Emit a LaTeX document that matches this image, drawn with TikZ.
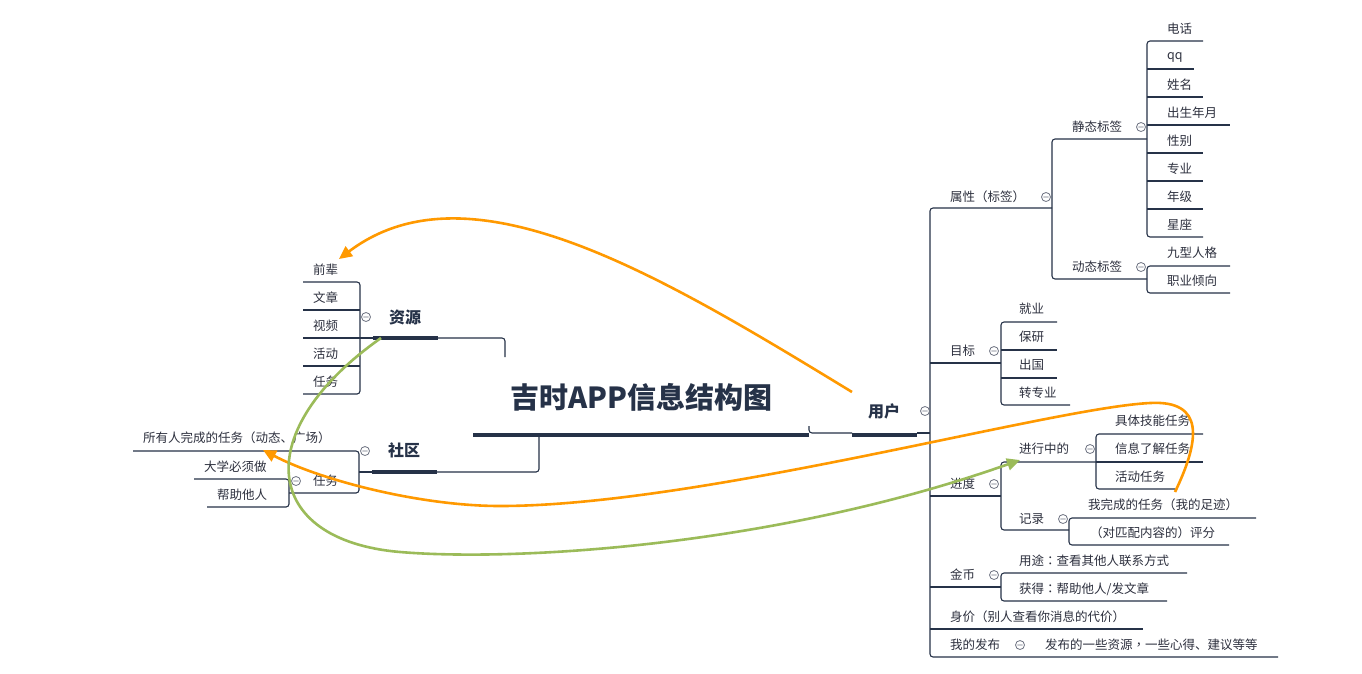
\documentclass[tikz,border=0pt]{standalone}
\usepackage{fontspec}
\setmainfont[Kerning=Off]{Noto Sans CJK SC}
\newfontfamily\tcf[Kerning=Off]{Noto Sans CJK TC}
\newcommand\lp{\makebox[1em][c]{\tcf （}}
\newcommand\rp{\makebox[1em][c]{\tcf ）}}
\newcommand\cl{\makebox[1em][c]{\tcf ：}}
\newcommand\cm{\makebox[1em][c]{\tcf ，}}
\newcommand\dn{\makebox[1em][l]{、}}
\usetikzlibrary{arrows.meta}
\definecolor{ln}{RGB}{38,50,72}
\definecolor{tx}{RGB}{45,48,62}
\definecolor{og}{RGB}{255,153,0}
\definecolor{gr}{RGB}{155,187,89}
\definecolor{cg}{RGB}{110,115,130}
\newcommand\mycoll[2]{\draw[coll] (#1,#2) circle[radius=4.5pt] (#1-2.6,#2) -- (#1+2.6,#2);}
\begin{document}
\begin{tikzpicture}[x=1pt,y=-1pt,
 br/.style={draw=ln,line width=1.1pt,rounded corners=3pt},
 bar/.style={draw=ln,line width=4.5pt},
 lab/.style={anchor=west,inner sep=0pt,text=tx,font=\fontsize{12.5}{14}\selectfont},
 mainlab/.style={inner sep=0pt,text=ln,font=\fontsize{16}{18}\selectfont\bfseries},
 coll/.style={draw=cg,line width=0.8pt},
 rel/.style={line width=2.6pt,-{Triangle[length=13pt,width=12pt]}}]
\fill[white] (0,0) rectangle (1362,673);
\useasboundingbox (0,0) rectangle (1362,673);

% ---------- central ----------
\node[inner sep=0pt,text=ln,font=\fontsize{29}{33}\selectfont\bfseries] (title) at (641,397) {吉时APP信息结构图};
\draw[bar] (473,435) -- (809,435);
\draw[br] (809,426) -- (809,433) -- (852,433);
\draw[draw=ln,line width=4pt] (852,435) -- (917,435);
\draw[br] (917,433) -- (930,433);

% ---------- right trunk ----------
\draw[br] (1052,208) -- (930,208) -- (930,657) -- (1278,657);
\draw[br] (930,363) -- (1001,363);
\draw[br] (930,496) -- (1001,496);
\draw[br] (930,587) -- (1001,587);
\draw[br] (930,629) -- (1143,629);

\node[mainlab] (yonghu) at (884,411) {用户};
\mycoll{925}{411}

% 属性
\node[lab] (shuxing) at (950,197) {属性\lp 标签\rp};
\mycoll{1046}{197}
\draw[br] (1147,139) -- (1052,139) -- (1052,279) -- (1147,279);
\node[lab] (jingtai) at (1072,127) {静态标签};
\mycoll{1141}{127}
\node[lab] (dongtai) at (1072,267) {动态标签};
\mycoll{1141}{267}
\draw[br] (1203,41) -- (1147,41) -- (1147,237) -- (1203,237);
\foreach \yy/\ee in {69/1194,97/1203,125/1230,153/1203,181/1203,209/1203}
  \draw[br] (1147,\yy) -- (\ee,\yy);
\node[lab] (dianhua) at (1167,29) {电话};
\node[lab] (qq) at (1167,57) {qq};
\node[lab] (xingming) at (1167,85) {姓名};
\node[lab] (chusheng) at (1167,113) {出生年月};
\node[lab] (xingbie) at (1167,141) {性别};
\node[lab] (zhuanye) at (1167,169) {专业};
\node[lab] (nianji) at (1167,197) {年级};
\node[lab] (xingzuo) at (1167,225) {星座};
\draw[br] (1230,266) -- (1147,266) -- (1147,293) -- (1230,293);
\node[lab] (jiuxing) at (1167,253) {九型人格};
\node[lab] (zhiye) at (1167,281) {职业倾向};

% 目标
\node[lab] (mubiao) at (950,351) {目标};
\mycoll{994}{351}
\draw[br] (1057,322) -- (1001,322) -- (1001,405) -- (1070,405);
\draw[br] (1001,350) -- (1057,350);
\draw[br] (1001,378) -- (1057,378);
\node[lab] (jiuye) at (1019,309) {就业};
\node[lab] (baoyan) at (1019,337) {保研};
\node[lab] (chuguo) at (1019,365) {出国};
\node[lab] (zhuanzy) at (1019,393) {转专业};

% 进度
\node[lab] (jindu) at (950,484) {进度};
\mycoll{994}{484}
\draw[br] (1096,462) -- (1001,462) -- (1001,530) -- (1069,530);
\node[lab] (jinxing) at (1019,449) {进行中的};
\mycoll{1090}{449}
\draw[br] (1203,434) -- (1096,434) -- (1096,489) -- (1175,489);
\draw[br] (1096,462) -- (1203,462);
\node[lab] (juti) at (1115,421) {具体技能任务};
\node[lab] (xinxi) at (1115,449) {信息了解任务};
\node[lab] (huodongrw) at (1115,477) {活动任务};
\node[lab] (jilu) at (1019,519) {记录};
\mycoll{1063}{519}
\draw[br] (1256,518) -- (1069,518) -- (1069,545) -- (1229,545);
\node[lab] (wowancheng) at (1088,505) {我完成的任务\lp 我的足迹\rp};
\node[lab] (pingfen) at (1090,533) {\lp 对匹配内容的\rp 评分};

% 金币
\node[lab] (jinbi) at (950,575) {金币};
\mycoll{994}{575}
\draw[br] (1187,573) -- (1001,573) -- (1001,601) -- (1167,601);
\node[lab] (yongtu) at (1019,561) {用途\cl 查看其他人联系方式};
\node[lab] (huode) at (1019,589) {获得\cl 帮助他人/发文章};

% 身价 / 我的发布
\node[lab] (shenjia) at (950,617) {身价\lp 别人查看你消息的代价\rp};
\node[lab] (wodefabu) at (950,645) {我的发布};
\mycoll{1020}{645}
\node[lab] (fabu) at (1045,645) {发布的一些资源\cm 一些心得\dn 建议等等};

% ---------- 资源 ----------
\draw[draw=ln,line width=4pt] (373,338) -- (438,338);
\draw[br] (438,338) -- (505,338) -- (505,357);
\node[mainlab] (ziyuan) at (405,317) {资源};
\mycoll{366}{317}
\draw[br] (303,282) -- (360,282) -- (360,394) -- (303,394);
\draw[br] (303,310) -- (360,310);
\draw[br] (303,338) -- (373,338);
\draw[br] (303,366) -- (360,366);
\node[lab] (qianbei) at (313,270) {前辈};
\node[lab] (wenzhang) at (313,298) {文章};
\node[lab] (shipin) at (313,326) {视频};
\node[lab] (huodong) at (313,354) {活动};
\node[lab] (renwu1) at (313,382) {任务};

% ---------- 社区 ----------
\draw[draw=ln,line width=4pt] (372,472) -- (437,472);
\draw[br] (437,472) -- (539,472) -- (539,437);
\node[mainlab] (shequ) at (404,450) {社区};
\mycoll{365}{451}
\draw[br] (133,451) -- (359,451) -- (359,493) -- (289,493);
\draw[br] (359,472) -- (372,472);
\node[lab] (suoyouren) at (143,438) {所有人完成的任务\lp 动态\dn 广场\rp};
\node[lab] (renwu2) at (313,481) {任务};
\mycoll{296}{481}
\draw[br] (194,479) -- (289,479) -- (289,507) -- (207,507);
\node[lab] (daxue) at (204,467) {大学必须做};
\node[lab] (bangzhu) at (217,495) {帮助他人};

% ---------- relation arrows ----------
\coordinate (o1s) at (852,392);
\coordinate (o1e) at (339,259);
\draw[rel,og] (o1s) .. controls (660,275) and (470,160) .. (o1e);

\coordinate (o2s) at (1175,492);
\coordinate (o2a) at (1150,403);
\coordinate (o2b) at (500,506);
\coordinate (o2e) at (263,450);
\draw[rel,og] (o2s) .. controls (1200,440) and (1205,400) .. (o2a)
  .. controls (1050,408) and (700,506) .. (o2b)
  .. controls (420,506) and (320,480) .. (o2e);

\coordinate (g1s) at (381,338);
\coordinate (g1a) at (400,552);
\coordinate (g1e) at (1020,460);
\draw[rel,gr] (g1s) .. controls (250,430) and (260,540) .. (g1a)
  .. controls (520,562) and (780,545) .. (g1e);
\end{tikzpicture}
\end{document}
